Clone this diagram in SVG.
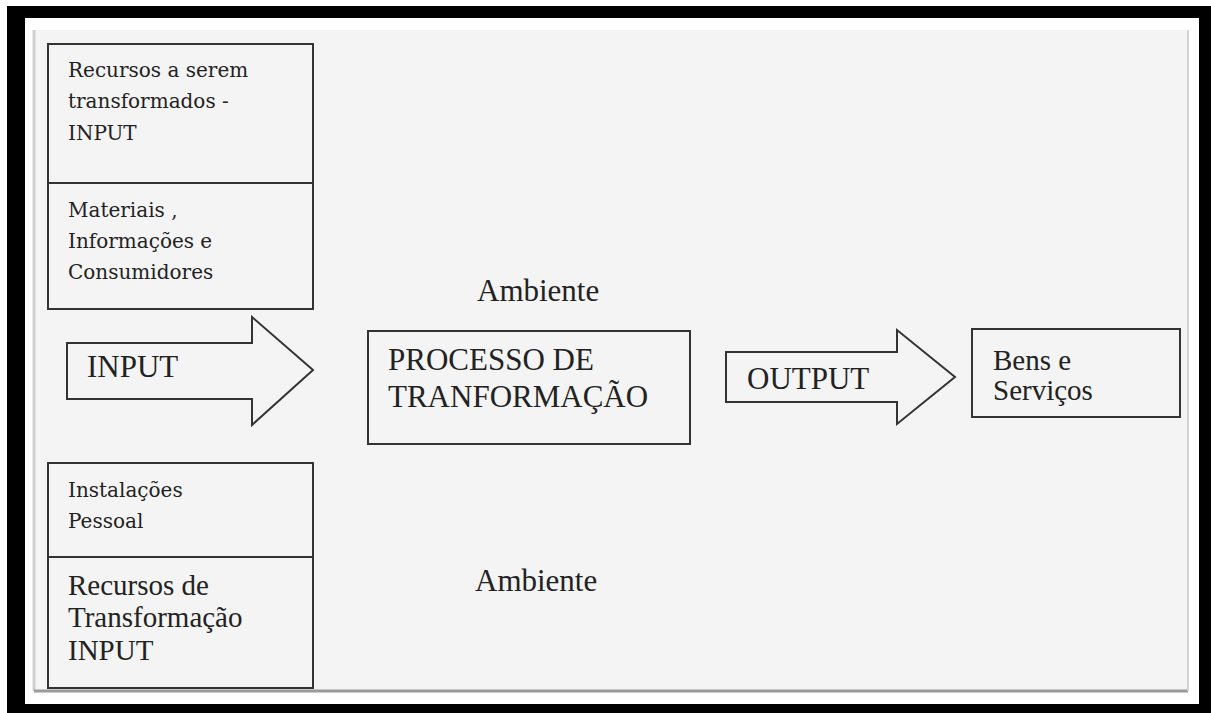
<svg xmlns="http://www.w3.org/2000/svg" width="1211" height="713" viewBox="0 0 1211 713">
  <style>
    .box { fill: none; stroke: #333; stroke-width: 2; }
    .arrow { fill: #f4f4f4; stroke: #333; stroke-width: 2; stroke-linejoin: miter; }
    .big { font-family: "Liberation Serif", "Times New Roman", serif; font-size: 31px; fill: #222; }
    .mid { font-family: "Liberation Serif", "Times New Roman", serif; font-size: 29px; fill: #222; }
    .small { font-family: "DejaVu Serif", serif; font-size: 20px; fill: #222; }
  </style>

  <!-- window frame -->
  <rect x="0" y="0" width="1211" height="713" fill="#ffffff"/>
  <rect x="7" y="6" width="1204" height="707" fill="#000000"/>
  <rect x="25" y="18" width="1174" height="686" fill="#ffffff"/>
  <rect x="34" y="30" width="1154" height="661" fill="#f4f4f4"/>
  <line x1="34" y1="30" x2="34" y2="691" stroke="#cfcfcf" stroke-width="3"/>
  <line x1="34" y1="691" x2="1188" y2="691" stroke="#9a9a9a" stroke-width="3"/>
  <line x1="1188" y1="30" x2="1188" y2="691" stroke="#d4d4d4" stroke-width="2"/>

  <!-- transformed resources (input) -->
  <g id="input-resources">
    <rect class="box" x="48" y="44" width="265" height="265"/>
    <line class="box" x1="48" y1="183" x2="313" y2="183"/>
    <text class="small" x="68" y="77">Recursos a serem</text>
    <text class="small" x="68" y="108">transformados -</text>
    <text class="small" x="68" y="140">INPUT</text>
    <text class="small" x="68" y="217">Materiais ,</text>
    <text class="small" x="68" y="248">Informações e</text>
    <text class="small" x="68" y="279">Consumidores</text>
  </g>

  <!-- transforming resources -->
  <g id="transforming-resources">
    <rect class="box" x="48" y="463" width="265" height="225"/>
    <line class="box" x1="48" y1="557" x2="313" y2="557"/>
    <text class="small" x="68" y="497">Instalações</text>
    <text class="small" x="68" y="528">Pessoal</text>
    <text class="mid" x="68" y="595">Recursos de</text>
    <text class="mid" x="68" y="627">Transformação</text>
    <text class="mid" x="68" y="660">INPUT</text>
  </g>

  <!-- environment labels -->
  <g id="ambiente-top">
    <text class="big" x="477" y="301">Ambiente</text>
  </g>
  <g id="ambiente-bottom">
    <text class="big" x="475" y="591">Ambiente</text>
  </g>

  <!-- transformation process -->
  <g id="process">
    <rect class="box" x="368" y="331" width="322" height="113"/>
    <text class="big" x="388" y="370">PROCESSO DE</text>
    <text class="big" x="388" y="407">TRANFORMAÇÃO</text>
  </g>

  <!-- goods and services -->
  <g id="output-goods">
    <rect class="box" x="972" y="329" width="208" height="88"/>
    <text class="mid" x="993" y="370">Bens e</text>
    <text class="mid" x="993" y="400">Serviços</text>
  </g>

  <!-- block arrows -->
  <g id="connectors">
    <g id="input-arrow">
      <polygon class="arrow" points="67,343 252,343 252,317 313,370 252,425 252,399 67,399"/>
      <text class="big" x="87" y="377">INPUT</text>
    </g>
    <g id="output-arrow">
      <polygon class="arrow" points="726,352 897,352 897,330 955,377 897,424 897,402 726,402"/>
      <text class="big" x="747" y="389">OUTPUT</text>
    </g>
  </g>
</svg>
